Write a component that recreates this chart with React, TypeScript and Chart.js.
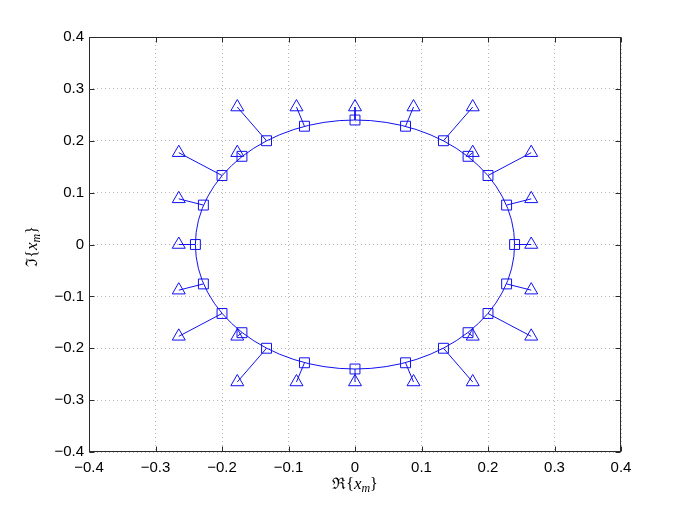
import React, { useEffect, useRef } from 'react';
import { Chart, registerables } from 'chart.js';

Chart.register(...registerables);

// Outer points (triangles), ordered counter-clockwise from angle 0
const triangleX = [0.265, 0.265, 0.265, 0.177, 0.177, 0.088, 0, -0.088, -0.177, -0.177, -0.265, -0.265, -0.265, -0.265, -0.265, -0.177, -0.177, -0.088, 0, 0.088, 0.177, 0.177, 0.265, 0.265];
const triangleY = [0, 0.088, 0.177, 0.177, 0.265, 0.265, 0.265, 0.265, 0.265, 0.177, 0.177, 0.088, 0, -0.088, -0.177, -0.177, -0.265, -0.265, -0.265, -0.265, -0.265, -0.177, -0.177, -0.088];

// Points on the circle (squares), same order
const squareX = [0.24, 0.228, 0.2, 0.17, 0.133, 0.076, 0, -0.076, -0.133, -0.17, -0.2, -0.228, -0.24, -0.228, -0.2, -0.17, -0.133, -0.076, 0, 0.076, 0.133, 0.17, 0.2, 0.228];
const squareY = [0, 0.076, 0.133, 0.17, 0.2, 0.228, 0.24, 0.228, 0.2, 0.17, 0.133, 0.076, 0, -0.076, -0.133, -0.17, -0.2, -0.228, -0.24, -0.228, -0.2, -0.17, -0.133, -0.076];

// Circle radius
const circleRadius = 0.24;

// Axis range and ticks
const axisMin = -0.4;
const axisMax = 0.4;
const tickStep = 0.1;

const xLabelPrefix = '\u211C';
const yLabelPrefix = '\u2111';

const BLUE = '#1010f0';

function fmtTick(v: number): string {
  const r = Math.round(v * 10) / 10;
  if (Math.abs(r) < 1e-9) return '0';
  return (r < 0 ? '\u2212' : '') + Math.abs(r).toFixed(1);
}

function drawMathLabel(ctx: CanvasRenderingContext2D, cx: number, cy: number, rotate: boolean, prefix: string) {
  const fam = '"Liberation Serif", "DejaVu Serif", serif';
  const parts = [
    { t: prefix + '{', f: `16px ${fam}`, dy: 0 },
    { t: 'x', f: `italic 17px ${fam}`, dy: 0 },
    { t: 'm', f: `italic 12px ${fam}`, dy: 4 },
    { t: '}', f: `16px ${fam}`, dy: 0 },
  ];
  ctx.save();
  ctx.translate(cx, cy);
  if (rotate) ctx.rotate(-Math.PI / 2);
  ctx.fillStyle = '#000';
  ctx.textBaseline = 'middle';
  ctx.textAlign = 'left';
  let w = 0;
  for (const p of parts) {
    ctx.font = p.f;
    w += ctx.measureText(p.t).width;
  }
  let x = -w / 2;
  for (const p of parts) {
    ctx.font = p.f;
    ctx.fillText(p.t, x, p.dy);
    x += ctx.measureText(p.t).width;
  }
  ctx.restore();
}

const framePlugin = {
  id: 'matlabFrame',
  beforeDatasetsDraw(chart: any) {
    const { ctx, scales } = chart;
    const xs = scales.x;
    const ys = scales.y;
    const cx = xs.getPixelForValue(0);
    const cy = ys.getPixelForValue(0);
    const rx = Math.abs(xs.getPixelForValue(circleRadius) - cx);
    const ry = Math.abs(ys.getPixelForValue(circleRadius) - cy);
    ctx.save();
    ctx.strokeStyle = BLUE;
    ctx.lineWidth = 1;
    ctx.beginPath();
    ctx.ellipse(cx, cy, rx, ry, 0, 0, Math.PI * 2);
    ctx.stroke();
    ctx.restore();
  },
  afterDraw(chart: any) {
    const { ctx, chartArea, scales } = chart;
    const { left, right, top, bottom } = chartArea;
    const L = Math.round(left) + 0.5;
    const R = Math.round(right) - 0.5;
    const T = Math.round(top) + 0.5;
    const B = Math.round(bottom) - 0.5;
    ctx.save();
    ctx.strokeStyle = '#2a2a2a';
    ctx.lineWidth = 1;
    ctx.strokeRect(L, T, R - L, B - T);
    const tl = 5;
    ctx.beginPath();
    for (const t of scales.x.ticks) {
      const px = Math.round(scales.x.getPixelForValue(t.value)) + 0.5;
      ctx.moveTo(px, B);
      ctx.lineTo(px, B - tl);
      ctx.moveTo(px, T);
      ctx.lineTo(px, T + tl);
    }
    for (const t of scales.y.ticks) {
      const py = Math.round(scales.y.getPixelForValue(t.value)) + 0.5;
      ctx.moveTo(L, py);
      ctx.lineTo(L + tl, py);
      ctx.moveTo(R, py);
      ctx.lineTo(R - tl, py);
    }
    ctx.stroke();
    ctx.restore();
    drawMathLabel(ctx, (left + right) / 2, 485, false, xLabelPrefix);
    drawMathLabel(ctx, 33, (top + bottom) / 2 + 2, true, yLabelPrefix);
  },
};

export default function App() {
  const canvasRef = useRef<HTMLCanvasElement | null>(null);

  useEffect(() => {
    if (!canvasRef.current) return;
    const connectors = triangleX.map((tx, i) => ({
      type: 'scatter' as const,
      data: [
        { x: tx, y: triangleY[i] },
        { x: squareX[i], y: squareY[i] },
      ],
      showLine: true,
      borderColor: BLUE,
      borderWidth: 1,
      pointRadius: 0,
      pointHoverRadius: 0,
      order: 3,
    }));
    const triangles = {
      type: 'scatter' as const,
      data: triangleX.map((x, i) => ({ x, y: triangleY[i] })),
      showLine: false,
      pointStyle: 'triangle',
      pointRadius: 7.5,
      pointBorderWidth: 1,
      pointBorderColor: BLUE,
      pointBackgroundColor: 'rgba(0,0,0,0)',
      borderColor: BLUE,
      backgroundColor: 'rgba(0,0,0,0)',
      order: 1,
    };
    const squares = {
      type: 'scatter' as const,
      data: squareX.map((x, i) => ({ x, y: squareY[i] })),
      showLine: false,
      pointStyle: 'rect',
      pointRadius: 7,
      pointBorderWidth: 1,
      pointBorderColor: BLUE,
      pointBackgroundColor: 'rgba(0,0,0,0)',
      borderColor: BLUE,
      backgroundColor: 'rgba(0,0,0,0)',
      order: 2,
    };

    const tickFont = { family: '"Liberation Sans", Arial, sans-serif', size: 15 };

    const chart = new Chart(canvasRef.current, {
      type: 'scatter',
      data: { datasets: [...connectors, squares, triangles] as any },
      options: {
        animation: false,
        responsive: false,
        devicePixelRatio: 1,
        events: [],
        layout: { padding: { top: 37, right: 64, left: 0, bottom: 0 } },
        plugins: {
          legend: { display: false },
          tooltip: { enabled: false },
          title: { display: false },
        },
        scales: {
          x: {
            type: 'linear',
            min: axisMin,
            max: axisMax,
            afterFit: (s: any) => { s.height = 56; },
            ticks: {
              stepSize: tickStep,
              color: '#000',
              font: tickFont,
              padding: 7,
              maxRotation: 0,
              autoSkip: false,
              callback: (v: any) => fmtTick(Number(v)),
            },
            grid: { color: '#b8b8b8', lineWidth: 1, drawTicks: false },
            border: { display: false, dash: [1, 3] },
          },
          y: {
            type: 'linear',
            min: axisMin,
            max: axisMax,
            afterFit: (s: any) => { s.width = 89; },
            ticks: {
              stepSize: tickStep,
              color: '#000',
              font: tickFont,
              padding: 5,
              autoSkip: false,
              callback: (v: any) => fmtTick(Number(v)),
            },
            grid: { color: '#b8b8b8', lineWidth: 1, drawTicks: false },
            border: { display: false, dash: [1, 3] },
          },
        },
      },
      plugins: [framePlugin],
    });
    return () => chart.destroy();
  }, []);

  return (
    <div style={{ position: 'absolute', left: 0, top: 0, width: 685, height: 508, background: '#fff' }}>
      <canvas ref={canvasRef} width={685} height={508} style={{ display: 'block' }} />
    </div>
  );
}
